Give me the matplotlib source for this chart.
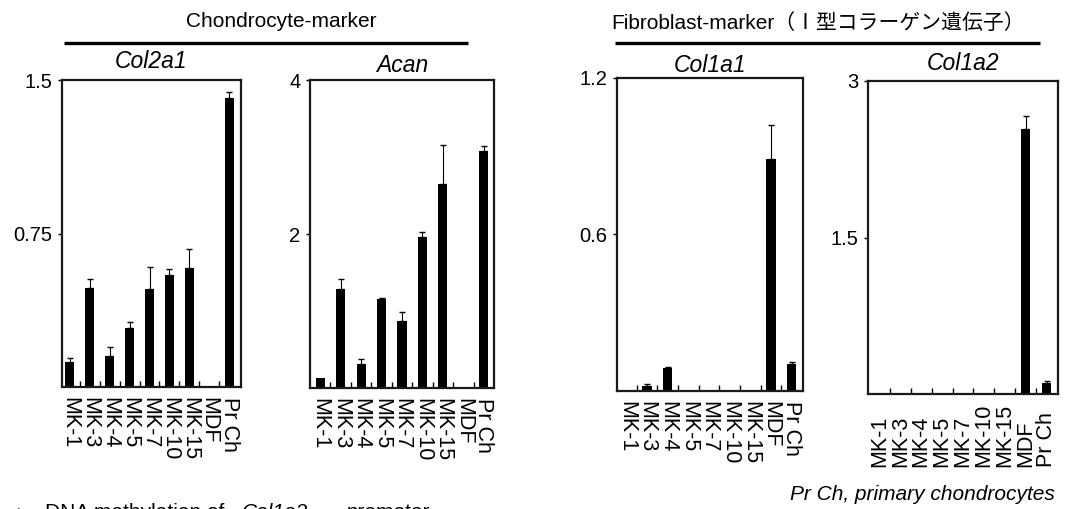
import numpy as np
import matplotlib
matplotlib.use("Agg")
from matplotlib import pyplot as plt
from matplotlib import transforms

plt.rcParams['font.family'] = ['Liberation Sans', 'Noto Sans CJK JP', 'DejaVu Sans']

# data
cats = ['MK-1', 'MK-3', 'MK-4', 'MK-5', 'MK-7', 'MK-10', 'MK-15', 'MDF', 'Pr Ch']

col2a1 = [0.122, 0.484, 0.15, 0.29, 0.48, 0.547, 0.58, 0, 1.41]
col2a1_err = [0.018, 0.046, 0.045, 0.03, 0.106, 0.03, 0.094, 0, 0.03]

acan = [0.13, 1.29, 0.31, 1.16, 0.87, 1.96, 2.65, 0, 3.08]
acan_err = [0, 0.13, 0.07, 0.01, 0.12, 0.07, 0.51, 0, 0.06]

col1a1 = [0, 0.019, 0.088, 0, 0, 0, 0, 0.89, 0.104]
col1a1_err = [0, 0.006, 0.004, 0, 0, 0, 0, 0.13, 0.006]

col1a2 = [0, 0, 0, 0, 0, 0, 0, 2.54, 0.105]
col1a2_err = [0, 0, 0, 0, 0, 0, 0, 0.12, 0.015]

genes = ['Col2a1', 'Acan', 'Col1a1', 'Col1a2']
ymax = [1.5, 4, 1.2, 3]
ytick_labels = [['0.75', '1.5'], ['2', '4'], ['0.6', '1.2'], ['1.5', '3']]

#%%
W, H = 1073, 509
fig = plt.figure(figsize=(W / 100, H / 100), dpi=100)

def rect(l, r, t, b):
    """pixel box -> figure fraction rect"""
    return [l / W, 1 - b / H, (r - l) / W, (b - t) / H]

boxes = [(62, 241, 80, 387), (310, 494, 80, 388), (617, 803, 78, 391), (868, 1058, 81, 394)]
xlims = [(-0.4, 8.6), (-0.5, 8.5), (-0.45, 8.55), (-0.55, 8.55)]
title_y = [62, 66, 66, 63]
series = [(col2a1, col2a1_err), (acan, acan_err), (col1a1, col1a1_err), (col1a2, col1a2_err)]

x = np.arange(len(cats))
for k in range(4):
    ax = fig.add_axes(rect(*boxes[k]))
    vals, errs = series[k]
    vals = np.array(vals)
    errs = np.array(errs)
    ax.bar(x, vals, width=0.45, color='black')
    m = errs > 0
    ax.errorbar(x[m], vals[m], yerr=[np.zeros(m.sum()), errs[m]], fmt='none',
                ecolor='black', elinewidth=0.8, capsize=2, capthick=1)
    ax.set_xlim(*xlims[k])
    ax.set_ylim(0, ymax[k])
    ax.set_yticks([ymax[k] / 2, ymax[k]])
    ax.set_yticklabels(ytick_labels[k], fontsize=14.5)
    ax.tick_params(axis='y', direction='out', length=3, width=1, pad=4)
    ax.set_xticks(x)
    ax.set_xticks(x[:-1] + 0.5, minor=True)
    ax.tick_params(axis='x', which='minor', direction='in', length=4, width=1)
    ax.tick_params(axis='x', which='major', length=0, pad=7)
    for s in ax.spines.values():
        s.set_linewidth(1.6)
        s.set_color('#1a1a1a')
    if k < 3:
        ax.set_xticklabels(cats, rotation=270, fontsize=15.5)
    else:
        ax.set_xticklabels([])
        tr = transforms.blended_transform_factory(ax.transData, fig.transFigure)
        for i, c in enumerate(cats):
            ax.text(i, 1 - 467 / H, c, transform=tr, rotation=90, ha='center',
                    va='bottom', fontsize=15.5)
    # gene name above each panel
    l, r = boxes[k][0], boxes[k][1]
    fig.text((l + r) / 2 / W, 1 - title_y[k] / H, genes[k], fontsize=16.5,
             style='italic', ha='center', va='center')

# header texts and lines
over = fig.add_axes([0, 0, 1, 1], zorder=-1)
over.set_xlim(0, W)
over.set_ylim(H, 0)
over.axis('off')
over.text(281, 21, 'Chondrocyte-marker', fontsize=15, ha='center', va='center')
over.plot([64, 468], [43, 43], color='black', lw=2.4, solid_capstyle='butt')
over.text(818, 23, 'Fibroblast-marker（Ⅰ型コラーゲン遺伝子）', fontsize=15,
          ha='center', va='center')
over.plot([615, 1040], [42.5, 42.5], color='black', lw=2.4, solid_capstyle='butt')

over.text(1055, 494, 'Pr Ch, primary chondrocytes', fontsize=15, style='italic',
          ha='right', va='center')

# note cut off at the bottom edge, as in the reference
over.text(15, 503, '➢', fontsize=14, ha='left', va='top', family=['DejaVu Sans'])
over.text(45, 503, 'DNA methylation of', fontsize=15, ha='left', va='top')
over.text(242, 503, 'Col1a2', fontsize=15, style='italic', ha='left', va='top')
over.text(347, 503, 'promoter', fontsize=15, ha='left', va='top')

plt.savefig('out.png', dpi=100)
